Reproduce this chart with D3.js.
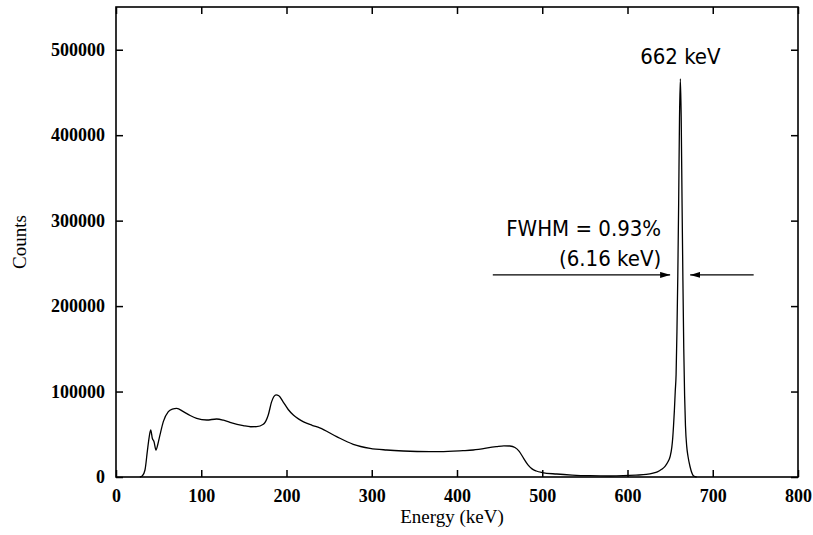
<!DOCTYPE html>
<html>
<head>
<meta charset="utf-8">
<script src="https://cdn.jsdelivr.net/npm/d3@7"></script>
<style>
  body { margin: 0; background: #fff; }
  .tick text { font-family: "Liberation Serif", "Times New Roman", serif; font-weight: bold; font-size: 18px; fill: #000; }
  .note { font-family: "DejaVu Sans Condensed", "DejaVu Sans", sans-serif; font-stretch: condensed; font-size: 22px; fill: #000; }
  .label { font-family: "Liberation Serif", "Times New Roman", serif; font-size: 19px; fill: #000; }
</style>
</head>
<body>
<svg id="chart" width="813" height="535"></svg>
<script>
// spectrum (energy in keV, counts)
var energy = [28, 31, 34, 36.7, 38.7, 40.7, 42.6, 44.6, 46.9, 49, 51.6, 55.5, 61.4, 66, 71.2, 79, 87, 94.6,
  106.4, 118, 126, 133.7, 149.3, 158, 165, 172.8, 178.6, 182.6, 187.7, 191, 196, 202, 208, 214, 220, 230, 239,
  258.8, 278.3, 298, 317.5, 337, 368, 380, 407, 419, 446, 455, 462, 468, 473, 478, 483, 488, 493, 500, 517,
  535, 556, 580, 595, 610, 622, 630, 635, 640, 644, 647, 650, 652, 653, 654, 655, 656, 657, 658, 659,
  660, 661, 662, 663, 664, 665, 666, 667, 668, 669.5, 671, 673.4, 677.3, 681];
var counts = [0, 1500, 8200, 29600, 45300, 55000, 45300, 41300, 31600, 38000, 49200, 64800, 76500, 79500, 80400, 76500, 72000, 68700,
  66700, 67900, 66500, 64000, 60100, 58800, 58900, 61700, 72600, 88200, 96000, 95000, 88000, 79000, 72500, 68000, 64500, 60500, 57500,
  47200, 38300, 33600, 31600, 30400, 29600, 29600, 30800, 31600, 35500, 36500, 36300, 34500, 30000, 22000, 14500, 9500, 7000, 5200, 3500,
  2300, 1500, 1200, 1500, 2200, 3000, 4500, 6000, 9000, 12500, 17000, 24000, 35000, 45000, 60000, 78000, 100000, 120000, 170000, 235000,
  320000, 420000, 466000, 420000, 320000, 230000, 150000, 95000, 60000, 35500, 24000, 12000, 1500, 0];

var xTicks = [0, 100, 200, 300, 400, 500, 600, 700, 800];
var yTicks = [0, 100000, 200000, 300000, 400000, 500000];

// annotation anchors, in data units
var peakLabel = { e: 662, c: 483000, text: "662 keV" };
var fwhmText = ["FWHM = 0.93%", "(6.16 keV)"];
var fwhmTextE = 639.5;
var fwhmLevel = 236500;
var leftArrow = [442, 650];
var rightArrow = [748, 673.5];

var svg = d3.select("#chart");
var margin = {top: 7, right: 15, bottom: 58, left: 116};
var width = 813 - margin.left - margin.right,
    height = 535 - margin.top - margin.bottom;

var g = svg.append("g").attr("transform", "translate(" + margin.left + "," + margin.top + ")");

var x = d3.scaleLinear().domain([0, 800]).range([0, width]);
var y = d3.scaleLinear().domain([0, 550000]).range([height, 0]);

var data = energy.map(function(e, i) { return {e: e, c: counts[i]}; });

// axes with inward ticks on all four sides
var bottom = g.append("g").attr("transform", "translate(0," + height + ")")
  .call(d3.axisBottom(x).tickValues(xTicks).tickFormat(d3.format("d")).tickSizeInner(-7).tickSizeOuter(0).tickPadding(8));
var left = g.append("g")
  .call(d3.axisLeft(y).tickValues(yTicks).tickFormat(d3.format("d")).tickSizeInner(-7).tickSizeOuter(0).tickPadding(11));
g.append("g")
  .call(d3.axisTop(x).tickValues(xTicks).tickFormat("").tickSizeInner(-7).tickSizeOuter(0));
g.append("g").attr("transform", "translate(" + width + ",0)")
  .call(d3.axisRight(y).tickValues(yTicks).tickFormat("").tickSizeInner(-7).tickSizeOuter(0));

g.selectAll(".domain").remove();
g.selectAll(".tick line").attr("stroke", "#000").attr("stroke-width", 1.5);
bottom.selectAll(".tick text").attr("y", 12).attr("dy", "0.71em");

g.append("rect")
  .attr("width", width).attr("height", height)
  .attr("fill", "none").attr("stroke", "#000").attr("stroke-width", 1.6);

var line = d3.line()
  .x(function(d) { return x(d.e); })
  .y(function(d) { return y(d.c); })
  .curve(d3.curveMonotoneX);

g.append("path").datum(data)
  .attr("fill", "none").attr("stroke", "#000").attr("stroke-width", 1.3)
  .attr("d", line);

// annotations
g.append("text").attr("class", "note")
  .attr("x", x(peakLabel.e)).attr("y", y(peakLabel.c))
  .attr("text-anchor", "middle").text(peakLabel.text);

g.selectAll(".fwhm").data(fwhmText).enter().append("text")
  .attr("class", "note fwhm")
  .attr("x", x(fwhmTextE)).attr("y", function(d, i) { return y(fwhmLevel) - 39 + i * 30; })
  .attr("text-anchor", "end").text(function(d) { return d; });

var defs = svg.append("defs");
defs.append("marker").attr("id", "head")
  .attr("viewBox", "0 0 10 6").attr("refX", 10).attr("refY", 3)
  .attr("markerWidth", 10).attr("markerHeight", 6).attr("markerUnits", "userSpaceOnUse")
  .attr("orient", "auto")
  .append("path").attr("d", "M0,0 L10,3 L0,6 Z").attr("fill", "#000");

[leftArrow, rightArrow].forEach(function(a) {
  g.append("line")
    .attr("x1", x(a[0])).attr("x2", x(a[1]))
    .attr("y1", y(fwhmLevel)).attr("y2", y(fwhmLevel))
    .attr("stroke", "#000").attr("stroke-width", 1.2)
    .attr("marker-end", "url(#head)");
});

svg.append("text").attr("class", "label")
  .attr("transform", "translate(26," + (margin.top + height / 2) + ") rotate(-90)")
  .attr("text-anchor", "middle").text("Counts");

svg.append("text").attr("class", "label")
  .attr("x", 452).attr("y", 523)
  .attr("text-anchor", "middle").text("Energy (keV)");
</script>
</body>
</html>
